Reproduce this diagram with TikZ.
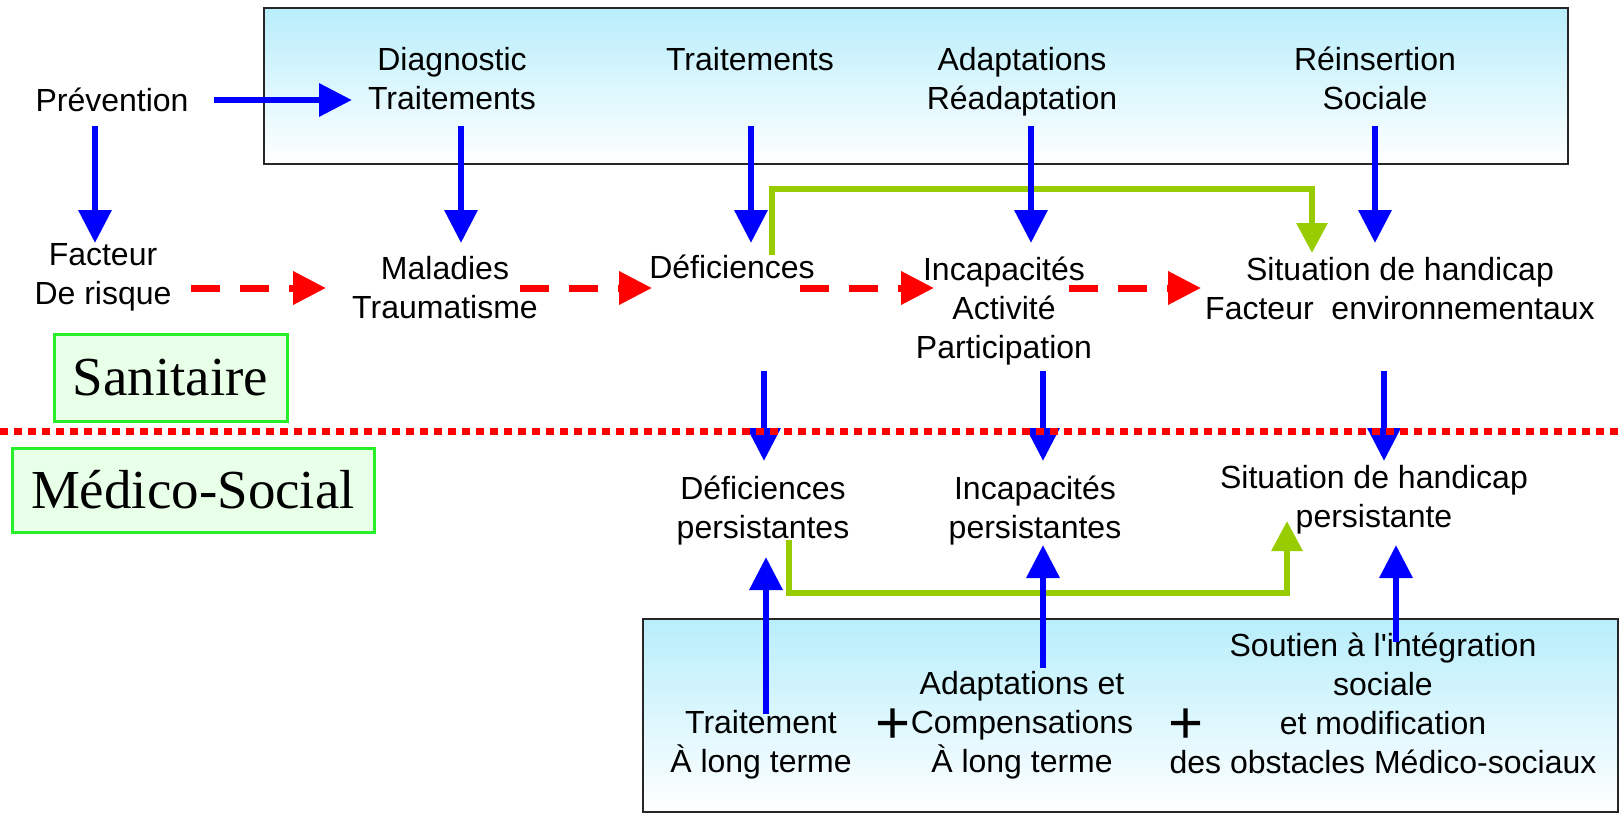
\documentclass[tikz,border=0pt]{standalone}
\usepackage{fontspec}
\setmainfont{Liberation Sans}
\newfontfamily\serifont{Liberation Serif}
\newfontfamily\nolig[Ligatures=TeXOff]{Liberation Sans}
\usetikzlibrary{arrows.meta,calc}
\definecolor{myblue}{RGB}{0,0,255}
\definecolor{myred}{RGB}{255,0,0}
\definecolor{mygreen}{RGB}{153,204,0}
\definecolor{boxcyan}{RGB}{184,238,251}
\definecolor{lightgreen}{RGB}{232,255,232}
\definecolor{brightgreen}{RGB}{40,240,40}
\begin{document}
\begin{tikzpicture}[x=0.5pt,y=-0.5pt,
 txt/.style={align=center,inner sep=0pt,font=\fontsize{16}{19.5}\selectfont},
 plussign/.style={inner sep=0pt,font=\fontsize{30}{32}\selectfont},
 barrow/.style={draw=myblue,line width=3.25pt,-{Triangle[length=16.5pt,width=16pt]}},
 rarrow/.style={draw=myred,line width=3.5pt,dash pattern=on 14.5pt off 10pt,-{Triangle[length=16.5pt,width=16pt]}},
 garrow/.style={draw=mygreen,line width=3pt,-{Triangle[length=15pt,width=15pt]}},
 gradbox/.style={draw=black!85,line width=1pt,top color=boxcyan,bottom color=white,inner sep=0pt},
 labbox/.style={draw=brightgreen,line width=1.5pt,fill=lightgreen,font=\serifont\fontsize{27.5}{30}\selectfont,inner sep=0pt},
 dotline/.style={draw=myred,line width=3.5pt,dash pattern=on 3.75pt off 3.25pt}
]
\useasboundingbox (0,0) rectangle (1623,813);
% boxes
\node[gradbox,minimum width=652pt,minimum height=78pt] (topbox) at (916,86) {};
\node[gradbox,minimum width=487.5pt,minimum height=96.5pt] (botbox) at (1130.5,715.5) {};
\node[labbox,minimum width=116.5pt,minimum height=43.5pt] (sani) at (170.5,377.5) {Sanitaire};
\node[labbox,minimum width=181pt,minimum height=42pt] (medi) at (193,490) {Médico-Social};
% texts
\node[txt] (prev) at (112,100) {Prévention};
\node[txt] (diag) at (452,78.5) {Diagnostic\\Traitements};
\node[txt] (trait) at (750,59) {Traitements};
\node[txt] (adapt) at (1022,82) {Adaptations\\Réadaptation};
\node[txt] (reins) at (1375,78.5) {Réinsertion\\Sociale};
\node[txt] (fact) at (103,277.5) {Facteur\\De risque};
\node[txt] (mal) at (445,288) {Maladies\\Traumatisme};
\node[txt] (defi) at (732,267) {Déficiences};
\node[txt] (incap) at (1004,311.5) {Incapacités\\Activité\\Participation};
\node[txt] (sit) at (1400,288.5) {Situation de handicap\\Facteur\ \ environnementaux};
\node[txt] (defp) at (763,511) {Déficiences\\persistantes};
\node[txt] (incp) at (1035,511) {Incapacités\\persistantes};
\node[txt] (sitp) at (1374,499.5) {Situation de handicap\\persistante};
\node[txt] (tlt) at (761,745) {Traitement\\À long terme};
\node[plussign] (plusa) at (893,726) {+};
\node[txt] (aclt) at (1022,725) {Adaptations et\\Compensations\\À long terme};
\node[plussign] (plusb) at (1186,726) {+};
\node[txt] (sout) at (1383,703) {Soutien à l{\nolig '}intégration\\sociale\\et modification\\des obstacles Médico-sociaux};
% green connectors
\draw[garrow] ($(defi)+(40,-12)$) -- ++(0,-66) -| ($(sit)+(-88,-35.5)$);
\draw[garrow] ($(defp)+(26,29)$) -- ++(0,53) -| ($(sitp)+(-87,21.5)$);
% blue arrows
\draw[barrow] ($(prev)+(102,0)$) -- ($(diag)+(-100,21.5)$);
\draw[barrow] ($(prev)+(-17,26)$) -- ($(fact)+(-8,-34.5)$);
\draw[barrow] ($(diag)+(9,47.5)$) -- ($(mal)+(16,-45)$);
\draw[barrow] ($(trait)+(1,67)$) -- ($(defi)+(19,-24)$);
\draw[barrow] ($(adapt)+(9,44)$) -- ($(incap)+(27,-68.5)$);
\draw[barrow] ($(reins)+(0,47.5)$) -- ($(sit)+(-25,-45.5)$);
\draw[barrow] ($(defi)+(32,104)$) -- ($(defp)+(1,-50)$);
\draw[barrow] ($(incap)+(39,59.5)$) -- ($(incp)+(8,-50)$);
\draw[barrow] ($(sit)+(-16,82.5)$) -- ($(sitp)+(10,-38.5)$);
\draw[barrow] ($(tlt)+(5,-31)$) -- ($(defp)+(3,46)$);
\draw[barrow] ($(aclt)+(21,-57)$) -- ($(incp)+(8,34)$);
\draw[barrow] ($(sout)+(13,-61)$) -- ($(sitp)+(22,45.5)$);
% red dashed arrows
\draw[rarrow] ($(fact)+(88,10.5)$) -- ($(mal)+(-119,0)$);
\draw[rarrow] ($(mal)+(75,0)$) -- ($(defi)+(-80,21)$);
\draw[rarrow] ($(defi)+(68,21)$) -- ($(incap)+(-70,-23.5)$);
\draw[rarrow] ($(incap)+(65,-23.5)$) -- ($(sit)+(-199,-0.5)$);
% dotted separator
\coordinate (sepl) at (0,431);
\coordinate (sepr) at (1623,431);
\draw[dotline] (sepl) -- (sepr);
\end{tikzpicture}
\end{document}
